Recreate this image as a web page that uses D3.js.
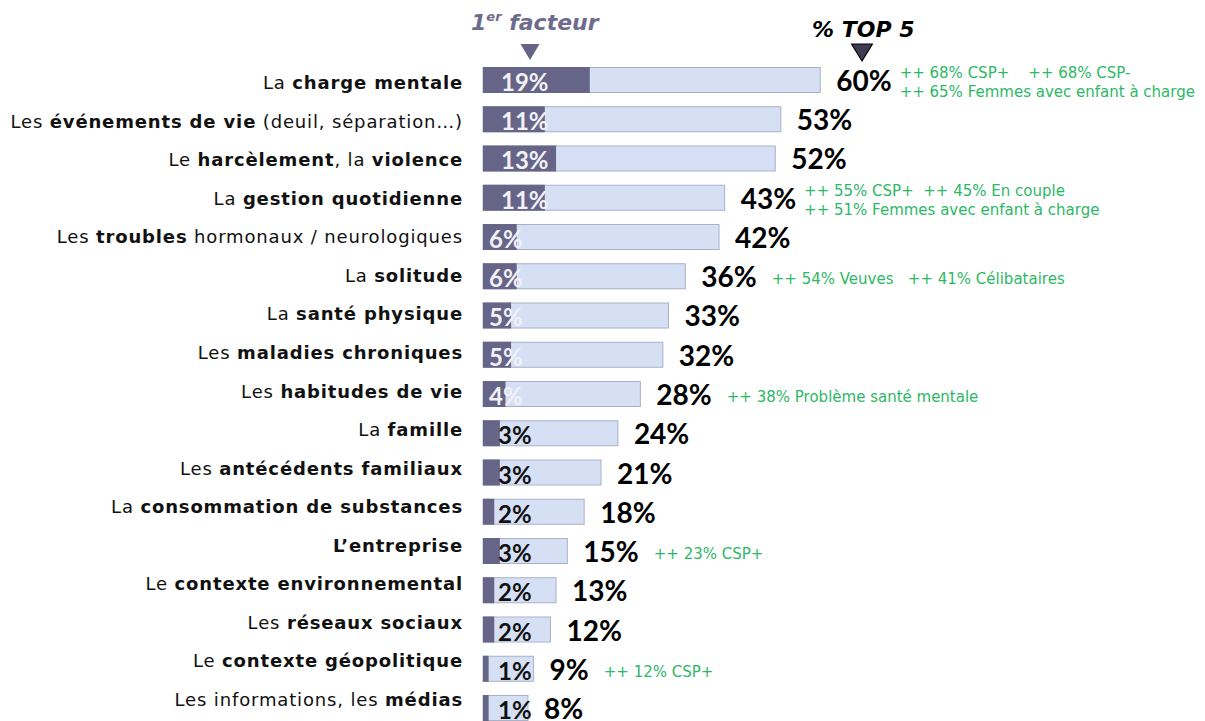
<!DOCTYPE html>
<html lang="fr">
<head>
<meta charset="utf-8">
<script src="https://cdn.jsdelivr.net/npm/d3@7"></script>
<style>
  html, body { margin: 0; padding: 0; background: #ffffff; }
  svg { display: block; }
  .cat { font-family: "Century Gothic", "DejaVu Sans", sans-serif; font-size: 18px; letter-spacing: 0.85px; fill: #111; }
  .pct { font-family: "Century Gothic", Lato, sans-serif; font-weight: 700; }
  .note { font-family: "Century Gothic", "DejaVu Sans", sans-serif; font-size: 15px; fill: #2db866; white-space: pre; }
  .head { font-family: "Century Gothic", "DejaVu Sans", sans-serif; font-weight: 700; font-style: italic; font-size: 22px; }
</style>
</head>
<body>
<script>
// Facteurs cités (texte en gras entre **)
const categories = [
  "La **charge mentale**",
  "Les **événements de vie** (deuil, séparation…)",
  "Le **harcèlement**, la **violence**",
  "La **gestion quotidienne**",
  "Les **troubles** hormonaux / neurologiques",
  "La **solitude**",
  "La **santé physique**",
  "Les **maladies chroniques**",
  "Les **habitudes de vie**",
  "La **famille**",
  "Les **antécédents familiaux**",
  "La **consommation de substances**",
  "**L’entreprise**",
  "Le **contexte environnemental**",
  "Les **réseaux sociaux**",
  "Le **contexte géopolitique**",
  "Les informations, les **médias**"
];

// % cité en 1er facteur
const firstFactor = [19, 11, 13, 11, 6, 6, 5, 5, 4, 3, 3, 2, 3, 2, 2, 1, 1];

// % cité dans le top 5
const top5 = [60, 53, 52, 43, 42, 36, 33, 32, 28, 24, 21, 18, 15, 13, 12, 9, 8];

// Sur-représentations par cible (une entrée par ligne de texte)
const highlights = [
  ["++ 68% CSP+    ++ 68% CSP-", "++ 65% Femmes avec enfant à charge"],
  [],
  [],
  ["++ 55% CSP+  ++ 45% En couple", "++ 51% Femmes avec enfant à charge"],
  [],
  ["++ 54% Veuves   ++ 41% Célibataires"],
  [],
  [],
  ["++ 38% Problème santé mentale"],
  [],
  [],
  [],
  ["++ 23% CSP+"],
  [],
  [],
  ["++ 12% CSP+"],
  []
];

const headers = { first: "facteur", top: "% TOP 5" };

const W = 1205, H = 721;
const C = {
  dark: "#666487",
  light: "#d6e0f5",
  lightStroke: "#a9b1c9",
  head: "#6e6b8c",
  topTri: "#3f3b52"
};

const svg = d3.select("body").append("svg")
  .attr("width", W).attr("height", H)
  .attr("viewBox", `0 0 ${W} ${H}`);

const rows = d3.range(categories.length);

const x = d3.scaleLinear().domain([0, 100]).range([483, 1045]);

const y = d3.scaleBand()
  .domain(rows)
  .range([67, 721])
  .paddingInner(0.3376)
  .paddingOuter(0);

const yLabel = d3.scalePoint()
  .domain(rows)
  .range([83, 700]);

// Libellés des facteurs, alignés à droite
const cat = svg.append("g").selectAll("text")
  .data(rows)
  .join("text")
  .attr("class", "cat")
  .attr("text-anchor", "end")
  .attr("x", 463)
  .attr("y", i => yLabel(i) + 6);

cat.each(function (i) {
  const parts = categories[i].split("**");
  const t = d3.select(this);
  parts.forEach((p, k) => {
    if (!p) return;
    t.append("tspan")
      .attr("font-weight", k % 2 === 1 ? 700 : 400)
      .text(p);
  });
});

// Barres top 5 (fond clair)
svg.append("g").selectAll("rect")
  .data(rows)
  .join("rect")
  .attr("x", x(0))
  .attr("y", i => y(i) + 0.5)
  .attr("width", i => x(top5[i]) - x(0))
  .attr("height", y.bandwidth() - 1)
  .attr("fill", C.light)
  .attr("stroke", C.lightStroke)
  .attr("stroke-width", 1);

// Barres 1er facteur (foncé)
svg.append("g").selectAll("rect")
  .data(rows)
  .join("rect")
  .attr("x", x(0))
  .attr("y", i => y(i))
  .attr("width", i => x(firstFactor[i]) - x(0))
  .attr("height", y.bandwidth())
  .attr("fill", C.dark);

// Valeurs 1er facteur
svg.append("g").selectAll("text")
  .data(rows)
  .join("text")
  .attr("class", "pct")
  .attr("font-size", 24)
  .attr("x", i => {
    const v = firstFactor[i];
    if (v >= 4) return x(0) + (v >= 10 ? 18 : 6);
    return x(0) + 15;
  })
  .attr("y", i => y(i) + y.bandwidth() / 2 + 11)
  .attr("fill", i => firstFactor[i] >= 4 ? "#f1f1f6" : "#111")
  .text(i => firstFactor[i] + "%");

// Valeurs top 5
const big = svg.append("g").selectAll("text")
  .data(rows)
  .join("text")
  .attr("class", "pct")
  .attr("font-size", 28)
  .attr("x", i => x(top5[i]) + 16)
  .attr("y", i => y(i) + y.bandwidth() / 2 + 11)
  .attr("fill", "#000")
  .text(i => top5[i] + "%");

// Annotations vertes
const bigEnd = [];
big.each(function (i) { bigEnd[i] = x(top5[i]) + 16 + this.getComputedTextLength(); });

const notes = svg.append("g");
rows.forEach(i => {
  const lines = highlights[i];
  if (!lines.length) return;
  const cy = y(i) + y.bandwidth() / 2;
  const nx = bigEnd[i] + (lines.length > 1 ? 8 : 15);
  lines.forEach((line, k) => {
    const by = lines.length > 1 ? cy - 1.5 + k * 18.5 : cy + 8;
    notes.append("text")
      .attr("class", "note")
      .attr("x", nx)
      .attr("y", by)
      .text(line);
  });
});

// En-têtes de colonnes
const h1 = svg.append("text")
  .attr("class", "head")
  .attr("x", 471)
  .attr("y", 30)
  .attr("fill", C.head);
h1.append("tspan").text("1");
h1.append("tspan").attr("font-size", 13).attr("dy", -9).text("er");
h1.append("tspan").attr("dy", 9).text("\u00a0" + headers.first);

svg.append("text")
  .attr("class", "head")
  .attr("x", 812)
  .attr("y", 37)
  .attr("fill", "#000")
  .text(headers.top);

// Flèches sous les en-têtes
const tri = (cx, top, w, h) => `M${cx - w / 2},${top}L${cx + w / 2},${top}L${cx},${top + h}Z`;
svg.append("path")
  .attr("d", tri(530, 44, 19, 16))
  .attr("fill", C.dark);
svg.append("path")
  .attr("d", tri(862, 44, 21, 17))
  .attr("fill", C.topTri)
  .attr("stroke", "#000")
  .attr("stroke-width", 1.2)
  .attr("stroke-linejoin", "round");
</script>
</body>
</html>
